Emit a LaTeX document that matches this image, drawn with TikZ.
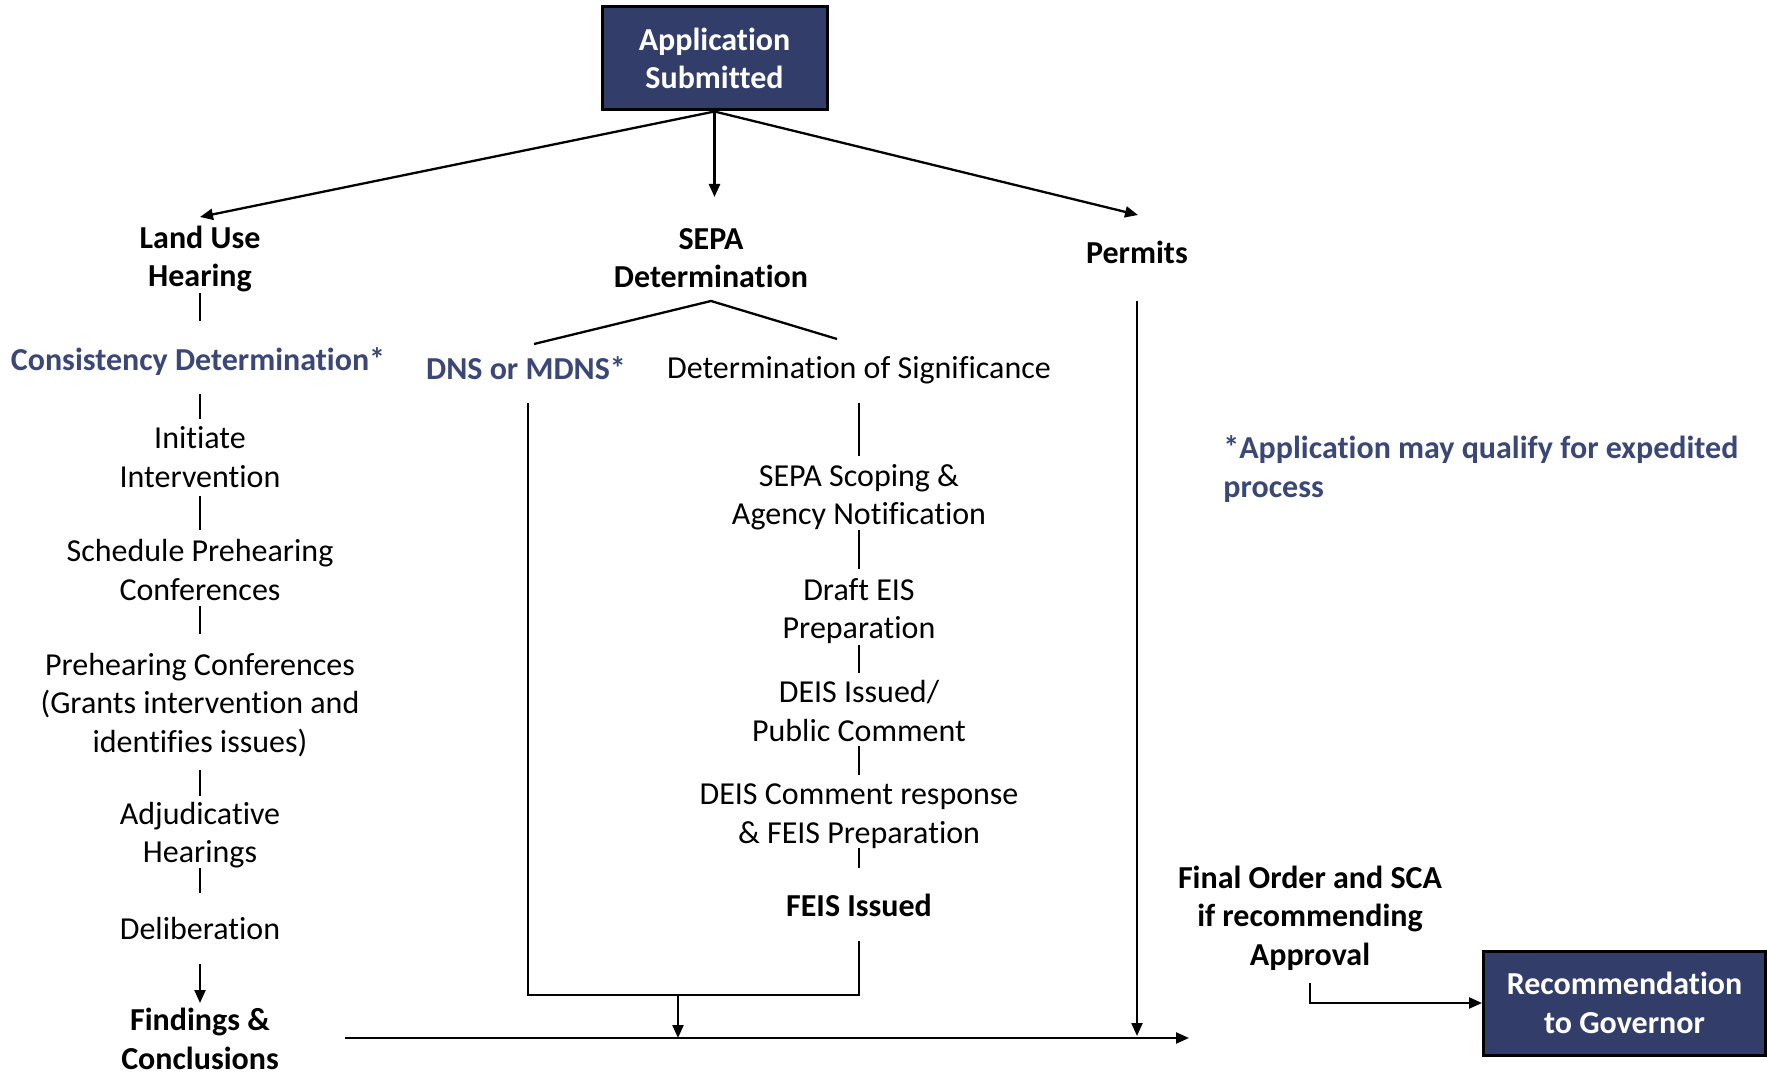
\documentclass[tikz,border=0pt]{standalone}
\usepackage{fontspec}
\setmainfont{Carlito}[Ligatures={NoCommon,NoRare,NoDiscretionary}]
\usetikzlibrary{arrows.meta,calc}
\definecolor{navy}{HTML}{323E69}
\definecolor{bluetxt}{HTML}{3A4777}
\begin{document}
\begin{tikzpicture}[x=0.5pt,y=-0.5pt,
  txt/.style={align=center,inner sep=0pt,font=\fontsize{16}{19.2}\selectfont},
  btxt/.style={align=center,inner sep=0pt,font=\fontsize{16}{19.2}\selectfont\bfseries},
  bluet/.style={btxt,text=bluetxt},
  darkbox/.style={draw=black,line width=1.5pt,fill=navy,text=white,align=center,inner sep=0pt,
    font=\fontsize{16}{19.2}\selectfont\bfseries},
  conn/.style={line width=1.15pt},
  arr/.style={conn,-{Triangle[length=6.5pt,width=5.5pt]}}]
\useasboundingbox (0,0) rectangle (1767,1074);

% boxes
\node[darkbox,minimum width=112.5pt,minimum height=51.5pt] (app) at (714.5,58.5) {Application\\Submitted};
\node[darkbox,minimum width=141pt,minimum height=52pt] (rec) at (1624.5,1003) {Recommendation\\to Governor};

% left column
\node[btxt] (lu) at (200,259) {Land Use\\Hearing};
\node[bluet] (cd) at (198,362) {Consistency Determination*};
\node[txt] (ii) at (200,457) {Initiate\\Intervention};
\node[txt] (sp) at (200,570) {Schedule Prehearing\\Conferences};
\node[txt] (pc) at (200,705) {Prehearing Conferences\\(Grants intervention and\\identifies issues)};
\node[txt] (ah) at (200,835) {Adjudicative\\Hearings};
\node[txt] (del) at (200,929) {Deliberation};
\node[btxt] (fc) at (200,1039) {Findings \&\\Conclusions};

% middle column
\node[btxt] (sepa) at (711,258) {SEPA\\Determination};
\node[bluet] (dns) at (526,368) {DNS or MDNS*};
\node[txt] (dos) at (859,370) {Determination of Significance};
\node[txt] (ssc) at (859,497) {SEPA Scoping \&\\Agency Notification};
\node[txt] (deis) at (859,611) {Draft EIS\\Preparation};
\node[txt] (dei) at (859,711) {DEIS Issued/\\Public Comment};
\node[txt] (dcr) at (859,816) {DEIS Comment response\\\& FEIS Preparation};
\node[btxt] (feis) at (859,905) {FEIS Issued};

% right column
\node[btxt] (perm) at (1137,252) {Permits};
\node[bluet,align=left,anchor=west] (note) at (1223,469) {*Application may qualify for expedited\\process};
\node[btxt] (fo) at (1310,918) {Final Order and SCA\\if recommending\\Approval};

% coordinates
\coordinate (luIn) at (200,217);
\coordinate (sepaIn) at (714.5,197);
\coordinate (permIn) at (1138,215);
\coordinate (apex) at (711,301);
\coordinate (dnsL) at (534,344);
\coordinate (dosR) at (837,339);
\coordinate (dnsTop) at (528,403);
\coordinate (join) at (678,995);
\coordinate (mainS) at (345,1038);
\coordinate (mainE) at (1189,1038);
\coordinate (joinE) at (678,1038);
\coordinate (permE) at (1137,1036);

% top arrows
\draw[arr] (app.south) -- (luIn);
\draw[arr] (app.south) -- (sepaIn);
\draw[arr] (app.south) -- (permIn);

% left ticks
\draw[conn] (lu.south |- 0,293) -- (lu.south |- 0,321);
\draw[conn] (ii.north |- 0,394) -- (ii.north |- 0,419);
\draw[conn] (ii.south |- 0,496) -- (ii.south |- 0,530);
\draw[conn] (sp.south |- 0,606) -- (sp.south |- 0,634);
\draw[conn] (pc.south |- 0,770) -- (pc.south |- 0,796);
\draw[conn] (ah.south |- 0,868) -- (ah.south |- 0,893);
\draw[arr] (del.south |- 0,964) -- (fc.north |- 0,1003);

% SEPA branch
\draw[conn] (dnsL) -- (apex) -- (dosR);
\draw[conn] (dos.south |- 0,403) -- (dos.south |- 0,456);
\draw[conn] (ssc.south |- 0,530) -- (ssc.south |- 0,569);
\draw[conn] (deis.south |- 0,645) -- (deis.south |- 0,673);
\draw[conn] (dei.south |- 0,746) -- (dei.south |- 0,775);
\draw[conn] (dcr.south |- 0,848) -- (dcr.south |- 0,868);
\draw[conn] (dnsTop) |- (feis.south |- 0,995) -- (feis.south |- 0,941);
\draw[arr] (join) -- (joinE);

% main line
\draw[arr] (mainS) -- (mainE);
\draw[arr] (perm.south |- 0,301) -- (permE);

% final order
\draw[arr] (fo.south |- 0,983) |- (rec.west);
\end{tikzpicture}
\end{document}
